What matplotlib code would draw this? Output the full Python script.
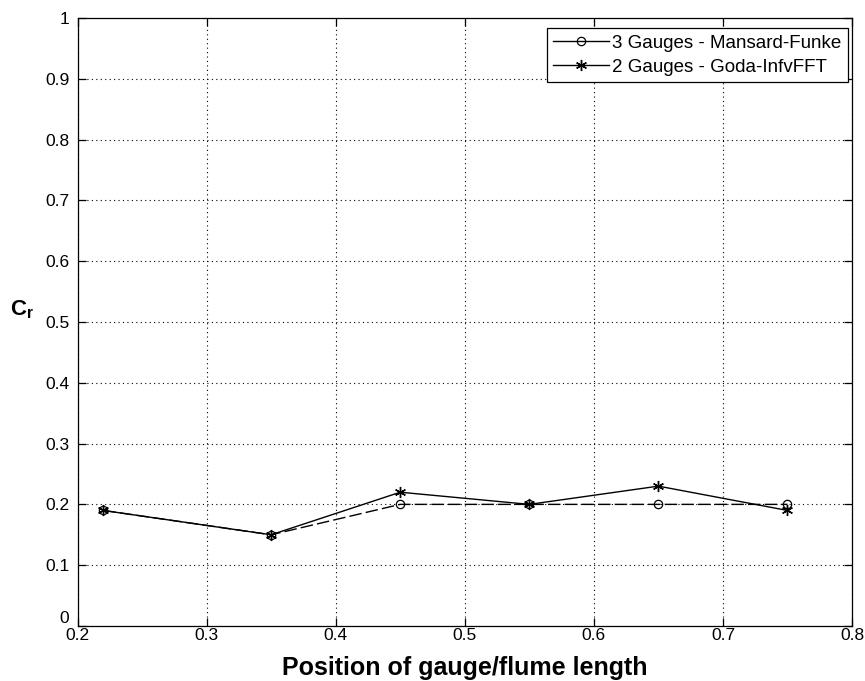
import matplotlib
matplotlib.use('Agg')
import matplotlib.pyplot as plt

plt.rcParams['font.family'] = ['Liberation Sans', 'DejaVu Sans']

positions = [0.22, 0.35, 0.45, 0.55, 0.65, 0.75]
cr_mansard = [0.19, 0.15, 0.20, 0.20, 0.20, 0.20]
cr_goda = [0.19, 0.15, 0.22, 0.20, 0.23, 0.19]

xticks = [0.2, 0.3, 0.4, 0.5, 0.6, 0.7, 0.8]
xtick_labels = ['0.2', '0.3', '0.4', '0.5', '0.6', '0.7', '0.8']
yticks = [0, 0.1, 0.2, 0.3, 0.4, 0.5, 0.6, 0.7, 0.8, 0.9, 1]
ytick_labels = ['0', '0.1', '0.2', '0.3', '0.4', '0.5', '0.6', '0.7', '0.8', '0.9', '1']

fig = plt.figure(figsize=(8.65, 6.81), dpi=100)
ax = fig.add_axes([0.0896, 0.0808, 0.8954, 0.8928])

ax.plot(positions, cr_mansard, color='black', linestyle=(0, (9, 3)), lw=1.0,
        marker='o', markersize=6, markerfacecolor='none', markeredgewidth=0.9,
        label='3 Gauges - Mansard-Funke')
ax.plot(positions, cr_goda, color='black', linestyle='-', lw=1.0,
        marker=(6, 2, 0), markersize=8, markeredgewidth=1.0,
        label='2 Gauges - Goda-InfvFFT')

ax.set_xlim(0.2, 0.8)
ax.set_ylim(0, 1)
ax.set_xticks(xticks)
ax.set_yticks(yticks)
tick_font = dict(family=['Liberation Sans Narrow', 'Liberation Sans'], size=12.5)
ax.set_xticklabels(xtick_labels, fontdict=tick_font)
ax.set_yticklabels(ytick_labels, fontdict=tick_font)
ax.get_yticklabels()[0].set_va('bottom')  # lift "0" off the "0.2" below it
ax.tick_params(direction='in', top=True, right=True, length=6, width=0.9)
ax.tick_params(axis='x', pad=1.5)
ax.tick_params(axis='y', pad=6)
ax.grid(True, linestyle=(0, (1, 3)), color='black', lw=0.8)
for s in ax.spines.values():
    s.set_linewidth(0.9)

ax.set_xlabel('Position of gauge/flume length', fontsize=18, fontweight='bold')
ax.xaxis.set_label_coords(0.5, -0.05)
ax.set_ylabel(r'C$_\mathregular{r}$', fontsize=16, fontweight='bold', rotation=0, va='center')
ax.yaxis.set_label_coords(-0.072, 0.52)

leg = ax.legend(loc='upper right', bbox_to_anchor=(0.9948, 0.9836), fontsize=13.5,
                frameon=True, fancybox=False, edgecolor='black', framealpha=1,
                borderaxespad=0, borderpad=0.35, handlelength=3.0, handletextpad=0.15,
                labelspacing=0.36)
leg.get_frame().set_linewidth(0.9)
# the legend shows both handles as solid lines
leg.get_lines()[0].set_linestyle('-')

fig.savefig('out.png', dpi=100, facecolor='white')
